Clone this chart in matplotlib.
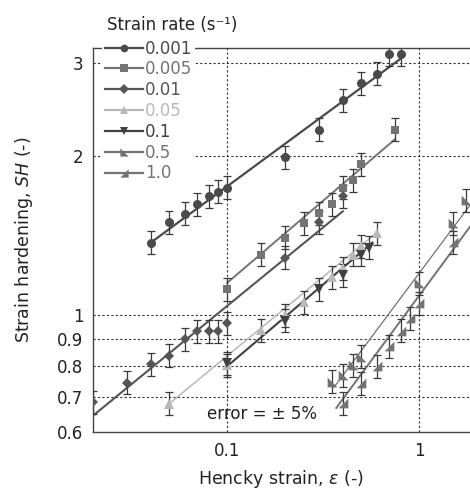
import matplotlib
matplotlib.use("Agg")
import matplotlib.pyplot as plt
from matplotlib.lines import Line2D

plt.rcParams['font.family'] = ['DejaVu Sans']

# strain rates (legend labels)
rates = ['0.001', '0.005', '0.01', '0.05', '0.1', '0.5', '1.0']

x_0001 = [0.04, 0.05, 0.06, 0.07, 0.08, 0.09, 0.1, 0.2, 0.3, 0.4, 0.5, 0.6, 0.7, 0.8]
y_0001 = [1.37, 1.50, 1.555, 1.62, 1.68, 1.71, 1.74, 1.99, 2.24, 2.55, 2.74, 2.86, 3.11, 3.11]

x_0005 = [0.1, 0.15, 0.2, 0.25, 0.3, 0.35, 0.4, 0.45, 0.5, 0.75]
y_0005 = [1.12, 1.30, 1.40, 1.49, 1.56, 1.62, 1.74, 1.80, 1.93, 2.24]

x_001 = [0.02, 0.03, 0.04, 0.05, 0.06, 0.07, 0.08, 0.09, 0.1, 0.2, 0.3, 0.4]
y_001 = [0.684, 0.745, 0.807, 0.838, 0.90, 0.933, 0.933, 0.933, 0.964, 1.283, 1.50, 1.677]

x_005 = [0.05, 0.1, 0.15, 0.2, 0.25, 0.35, 0.4, 0.45, 0.5, 0.6]
y_005 = [0.68, 0.805, 0.937, 1.0, 1.057, 1.18, 1.225, 1.30, 1.35, 1.43]

x_01 = [0.1, 0.2, 0.3, 0.4, 0.5, 0.55]
y_01 = [0.81, 0.976, 1.12, 1.19, 1.30, 1.34]

x_05 = [0.35, 0.4, 0.45, 0.5, 1.0, 1.5, 1.75]
y_05 = [0.748, 0.77, 0.805, 0.834, 1.148, 1.49, 1.65]

x_10 = [0.4, 0.5, 0.6, 0.7, 0.8, 0.9, 1.0, 1.5]
y_10 = [0.681, 0.743, 0.80, 0.872, 0.934, 0.985, 1.052, 1.375]

# power-law fit lines (end points)
fitx_0001, fity_0001 = [0.04, 0.8], [1.37, 3.05]
fitx_0005, fity_0005 = [0.1, 0.75], [1.15, 2.15]
fitx_001, fity_001 = [0.02, 0.4], [0.645, 1.57]
fitx_005, fity_005 = [0.05, 0.6], [0.68, 1.43]
fitx_01, fity_01 = [0.1, 0.57], [0.80, 1.37]
fitx_05, fity_05 = [0.36, 2.0], [0.73, 1.68]
fitx_10, fity_10 = [0.37, 2.0], [0.667, 1.53]

err_frac = 0.05

# right-angle triangle markers
tri_ll = [(-1, 1), (-1, -1), (1, -1), (-1, 1)]
tri_lr = [(1, 1), (1, -1), (-1, -1), (1, 1)]

series = [
    (x_0001, y_0001, fitx_0001, fity_0001, 'o', '#4a4a4a', 6.5, 1.6),
    (x_0005, y_0005, fitx_0005, fity_0005, 's', '#747474', 6.0, 1.4),
    (x_001, y_001, fitx_001, fity_001, 'D', '#555555', 5.5, 1.5),
    (x_005, y_005, fitx_005, fity_005, '^', '#b9b9b9', 7.0, 1.1),
    (x_01, y_01, fitx_01, fity_01, 'v', '#404040', 7.0, 1.5),
    (x_05, y_05, fitx_05, fity_05, tri_ll, '#727272', 7.0, 0.9),
    (x_10, y_10, fitx_10, fity_10, tri_lr, '#737373', 7.0, 1.4),
]

fig = plt.figure(figsize=(4.70, 4.91), dpi=100)
W, H = 470, 491
ax_l, ax_r, ax_t, ax_b = 93, 477, 47.7, 432.3
ax = fig.add_axes([ax_l / W, (H - ax_b) / H, (ax_r - ax_l) / W, (ax_b - ax_t) / H])

ax.set_xscale('log')
ax.set_yscale('log')
ax.set_xlim(0.02, 2.0)
ax.set_ylim(0.6, 3.2)

handles = []
for xs, ys, fx, fy, mk, col, ms, lw in series:
    ax.plot(fx, fy, color=col, lw=lw, zorder=3)
    ax.errorbar(xs, ys, yerr=[v * err_frac for v in ys], fmt='none',
                ecolor='#3a3a3a', elinewidth=0.9, capsize=2.6, capthick=0.9, zorder=4)
    ax.plot(xs, ys, linestyle='none', marker=mk, color=col, markersize=ms,
            markeredgewidth=0, zorder=5)
    handles.append(Line2D([], [], color=col, lw=1.6, marker=mk, markersize=ms * 0.85,
                          markeredgewidth=0))

# ticks and grid
yt = [0.6, 0.7, 0.8, 0.9, 1, 2, 3]
yt_labels = ['0.6', '0.7', '0.8', '0.9', '1', '2', '3']
xt = [0.1, 1]
xt_labels = ['0.1', '1']
ax.set_yticks(yt)
ax.set_yticklabels(yt_labels)
ax.set_xticks(xt)
ax.set_xticklabels(xt_labels)
ax.minorticks_off()
ax.tick_params(length=0, labelsize=12, pad=7, colors='#222222')

for v in yt[1:]:
    ax.axhline(v, color='#333333', lw=0.8, ls=(0, (2, 2)), zorder=1)
for v in xt:
    ax.axvline(v, color='#333333', lw=0.8, ls=(0, (2, 2)), zorder=1)

for s in ax.spines.values():
    s.set_color('#444444')
    s.set_linewidth(1.0)

ax.set_xlabel('Hencky strain, $\\mathit{\\varepsilon}$ (-)', fontsize=12.5, color='#222222')
ax.set_ylabel('Strain hardening, $\\mathit{SH}$ (-)', fontsize=12.5, color='#222222')
ax.xaxis.set_label_coords(0.49, -0.092)
ax.yaxis.set_label_coords(-0.15, 0.5)

ax.text(0.296, 0.047, 'error = \u00b1 5%', transform=ax.transAxes, fontsize=12,
        va='center', ha='left', color='#222222')

leg = ax.legend(handles, rates, loc='upper left',
                bbox_to_anchor=(102 / W, 1 - 37 / H), bbox_transform=fig.transFigure,
                fontsize=12, frameon=True, fancybox=False,
                handlelength=2.3, handletextpad=0.15, labelspacing=0.17,
                borderpad=0.15, borderaxespad=0)
leg.get_frame().set_edgecolor('none')
leg.get_frame().set_facecolor('white')
leg.get_frame().set_alpha(1.0)
for txt, (_, _, _, _, _, col, _, _) in zip(leg.get_texts(), series):
    txt.set_color(col)

fig.text(107 / W, 1 - 25 / H, 'Strain rate (s\u207b\u00b9)', fontsize=12,
         ha='left', va='center', color='#222222')

fig.savefig('out.png', dpi=100)
